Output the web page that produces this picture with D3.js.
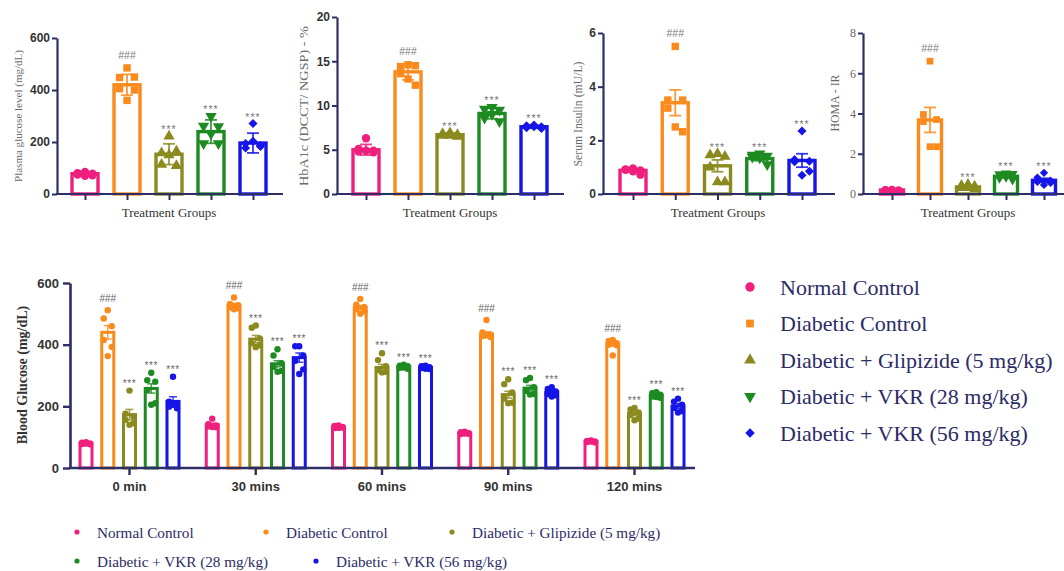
<!DOCTYPE html>
<html><head><meta charset="utf-8">
<script src="https://cdn.jsdelivr.net/npm/d3@7"></script>
<style>
body{margin:0;background:#fff} svg{display:block}
.serif{font-family:"Liberation Serif","Tinos","DejaVu Serif",serif}
.sans{font-family:"Liberation Sans","Arimo",Arial,sans-serif}
</style>
</head><body>
<svg id="c" width="1064" height="571"></svg>
<script>
// ---------- DATA ----------
const groups = ["Normal Control", "Diabetic Control", "Diabetic + Glipizide (5 mg/kg)", "Diabetic + VKR (28 mg/kg)", "Diabetic + VKR (56 mg/kg)"];
const groupColors = ["#ef1f7d", "#fb8a1c", "#8a8a1e", "#1e8a22", "#1515e8"];
const annotations = ["", "###", "***", "***", "***"];

const plasmaTicks = [0, 200, 400, 600];
const plasmaMean = [78, 420, 153, 240, 196];
const plasmaErr = [6, 40, 40, 45, 38];
const plasmaPoints = [
  [85, 80, 78, 75, 72, 70],
  [485, 448, 450, 405, 400, 360],
  [222, 158, 164, 113, 109, 150],
  [299, 262, 260, 194, 194, 232],
  [271, 194, 186, 177, 183, 203]
];

const hba1cTicks = [0, 5, 10, 15, 20];
const hba1cMean = [5.0, 13.8, 6.7, 9.1, 7.6];
const hba1cErr = [0.6, 0.9, 0.2, 0.6, 0.15];
const hba1cPoints = [
  [6.3, 5.1, 4.9, 4.8, 4.7, 4.9],
  [14.6, 14.4, 14.5, 13.6, 12.3, 13.0],
  [6.9, 6.8, 6.7, 6.6, 6.5, 6.6],
  [9.8, 9.6, 9.5, 8.6, 8.2, 9.0],
  [7.8, 7.7, 7.6, 7.5, 7.4, 7.6]
];

const insulinTicks = [0, 2, 4, 6];
const insulinMean = [0.88, 3.4, 1.05, 1.32, 1.25];
const insulinErr = [0.05, 0.48, 0.22, 0.08, 0.25];
const insulinPoints = [
  [0.95, 0.92, 0.88, 0.9, 0.72, 0.85],
  [5.5, 3.5, 3.5, 3.2, 2.32, 2.5],
  [1.5, 1.45, 1.4, 1.0, 0.45, 0.45],
  [1.5, 1.45, 1.42, 1.38, 1.1, 1.35],
  [2.35, 1.28, 1.22, 1.2, 0.85, 0.7]
];

const homaTicks = [0, 2, 4, 6, 8];
const homaMean = [0.2, 3.68, 0.35, 0.88, 0.68];
const homaErr = [0.02, 0.62, 0.06, 0.08, 0.1];
const homaPoints = [
  [0.22, 0.2, 0.18, 0.21, 0.19, 0.2],
  [6.6, 3.95, 3.7, 3.6, 2.35, 2.35],
  [0.5, 0.45, 0.42, 0.3, 0.25, 0.3],
  [1.02, 0.98, 1.0, 0.8, 0.72, 0.85],
  [1.05, 0.82, 0.66, 0.6, 0.55, 0.45]
];

const times = ["0 min", "30 mins", "60 mins", "90 mins", "120 mins"];
const bgTicks = [0, 200, 400, 600];
// rows: groups, columns: times
const bgMean = [
  [80, 140, 133, 113, 86],
  [440, 528, 520, 434, 403],
  [173, 418, 326, 238, 177],
  [258, 338, 328, 259, 236],
  [216, 358, 326, 246, 201]
];
const bgErr = [
  [3, 5, 3, 3, 2],
  [22, 6, 7, 8, 8],
  [17, 12, 10, 11, 7],
  [15, 10, 4, 9, 4],
  [15, 15, 3, 5, 8]
];
const bgPoints = [
  [[84, 82, 80, 78, 77, 79], [160, 142, 138, 135, 132, 133], [138, 136, 133, 130, 131, 130], [118, 116, 113, 110, 111, 112], [89, 88, 86, 84, 83, 86]],
  [[512, 485, 460, 415, 393, 363], [553, 532, 528, 522, 518, 515], [548, 530, 522, 515, 508, 500], [480, 440, 433, 428, 425, 430], [415, 412, 405, 400, 398, 365]],
  [[251, 176, 167, 156, 145, 140], [462, 455, 420, 405, 398, 392], [372, 350, 330, 318, 312, 310], [288, 272, 245, 225, 212, 210], [195, 190, 180, 172, 160, 155]],
  [[309, 285, 280, 253, 210, 205], [385, 365, 340, 328, 315, 312], [335, 332, 330, 325, 322, 326], [292, 285, 262, 250, 240, 238], [246, 243, 238, 232, 228, 230]],
  [[296, 215, 210, 199, 194, 205], [395, 395, 365, 348, 320, 305], [332, 330, 327, 324, 321, 322], [262, 256, 248, 240, 236, 232], [225, 215, 205, 195, 185, 180]]
];

// ---------- DRAWING ----------
const svg = d3.select("#c");
const AXIS = "#2e2e66";
const symTypes = [d3.symbolCircle, d3.symbolSquare, d3.symbolTriangle, d3.symbolTriangle, d3.symbolSquare];
const symRot = [0, 0, 0, 180, 45];
const jitter = [0, -8, 8, -8, 8, 0];
const fmt = d3.format("~g");

function topPanel(c) {
  const g = svg.append("g");
  const y = d3.scaleLinear().domain([0, c.ticks[c.ticks.length - 1]]).range([194, c.yTop]);
  const x = d3.scalePoint().domain(groups).range(c.centers);

  groups.forEach((grp, i) => {
    const col = groupColors[i];
    const cx = x(grp);
    g.append("rect").attr("x", cx - c.barW / 2).attr("width", c.barW)
      .attr("y", y(c.means[i])).attr("height", y(0) - y(c.means[i]))
      .attr("fill", "none").attr("stroke", col).attr("stroke-width", 3.4);
    const e1 = y(c.means[i] + c.errs[i]), e0 = y(c.means[i] - c.errs[i]);
    g.append("line").attr("x1", cx).attr("x2", cx).attr("y1", e1).attr("y2", e0)
      .attr("stroke", col).attr("stroke-width", 1.8).attr("opacity", 0.85);
    [e1, e0].forEach(v => g.append("line").attr("x1", cx - 6).attr("x2", cx + 6).attr("y1", v).attr("y2", v)
      .attr("stroke", col).attr("stroke-width", 1.8).attr("opacity", 0.85));
    c.points[i].forEach((v, k) => {
      g.append("path").attr("d", d3.symbol().type(symTypes[i]).size(i === 4 ? c.symSize * 0.75 : c.symSize)())
        .attr("transform", `translate(${cx + jitter[k] * c.barW / 28},${y(v)}) rotate(${symRot[i]})`)
        .attr("fill", col);
    });
    if (annotations[i]) {
      const top = Math.min(y(d3.max(c.points[i])), e1);
      g.append("text").attr("class", "sans").attr("x", cx).attr("y", top - (annotations[i] === "###" ? 9 : 3))
        .attr("text-anchor", "middle").attr("font-size", 10.5)
        .attr("letter-spacing", annotations[i] === "***" ? 1 : 0)
        .attr("fill", "#7a7a7a").text(annotations[i]);
    }
  });

  const ax = g.append("g").attr("transform", `translate(${c.axisX},0)`)
    .call(d3.axisLeft(y).tickValues(c.ticks).tickFormat(fmt).tickSize(5).tickSizeOuter(0).tickPadding(2));
  ax.attr("font-family", null);
  ax.select(".domain").attr("stroke", AXIS).attr("stroke-width", 2.2);
  ax.selectAll(".tick line").attr("stroke", AXIS).attr("stroke-width", 2);
  ax.selectAll(".tick text").attr("class", c.serifTicks ? "serif" : "sans")
    .attr("font-weight", c.serifTicks ? "normal" : "bold").attr("font-size", 12)
    .attr("fill", c.serifTicks ? "#666" : "#333");
  g.append("line").attr("x1", c.axisX - 1).attr("x2", c.xEnd).attr("y1", y(0)).attr("y2", y(0))
    .attr("stroke", AXIS).attr("stroke-width", 2.2);
  const xa = g.append("g").attr("transform", `translate(0,${y(0)})`)
    .call(d3.axisBottom(x).tickSize(6).tickFormat(""));
  xa.select(".domain").remove();
  xa.selectAll(".tick line").attr("stroke", AXIS).attr("stroke-width", 2);

  g.append("text").attr("class", "serif").attr("x", c.labelX).attr("y", 217).attr("text-anchor", "middle")
    .attr("font-size", 13).attr("fill", "#333").text("Treatment Groups");
  g.append("text").attr("class", "serif").attr("transform", `translate(${c.ylX},${c.ylY}) rotate(-90)`)
    .attr("text-anchor", "middle").attr("dominant-baseline", "central")
    .attr("font-size", c.ylSize).attr("fill", "#6a6a6a")
    .attr("textLength", c.ylLen).attr("lengthAdjust", "spacingAndGlyphs").text(c.ylabel);
}

topPanel({ axisX: 57, xEnd: 283, centers: [85, 253], barW: 26, yTop: 38, ticks: plasmaTicks,
  means: plasmaMean, errs: plasmaErr, points: plasmaPoints, symSize: 55,
  ylabel: "Plasma glucose level (mg/dL)", ylX: 18, ylY: 116, ylSize: 11, ylLen: 132, labelX: 169 });
topPanel({ axisX: 337, xEnd: 564, centers: [366, 534], barW: 26, yTop: 17, ticks: hba1cTicks,
  means: hba1cMean, errs: hba1cErr, points: hba1cPoints, symSize: 55,
  ylabel: "HbA1c (DCCT/ NGSP) - %", ylX: 304, ylY: 106, ylSize: 12, ylLen: 160, labelX: 450 });
topPanel({ axisX: 603, xEnd: 835, centers: [633, 802], barW: 26, yTop: 33, ticks: insulinTicks,
  means: insulinMean, errs: insulinErr, points: insulinPoints, symSize: 55,
  ylabel: "Serum Insulin (mU/L)", ylX: 578, ylY: 114, ylSize: 11.5, ylLen: 105, labelX: 718 });
topPanel({ axisX: 863, xEnd: 1064, centers: [892, 1044], barW: 23, yTop: 33, ticks: homaTicks,
  means: homaMean, errs: homaErr, points: homaPoints, symSize: 45, serifTicks: true,
  ylabel: "HOMA - IR", ylX: 835, ylY: 103, ylSize: 12, ylLen: 57, labelX: 968 });

// ---------- bottom panel ----------
(function () {
  const g = svg.append("g");
  const y = d3.scaleLinear().domain([0, 600]).range([468, 283]);
  const xt = d3.scalePoint().domain(times).range([129, 634]);
  const xg = d3.scalePoint().domain(groups).range([-43, 44]);
  const bw = 12;
  times.forEach((t, j) => {
    groups.forEach((grp, i) => {
      const col = groupColors[i];
      const cx = xt(t) + xg(grp);
      const m = bgMean[i][j];
      g.append("rect").attr("x", cx - bw / 2).attr("width", bw).attr("y", y(m)).attr("height", y(0) - y(m))
        .attr("fill", "none").attr("stroke", col).attr("stroke-width", 3);
      const e1 = y(m + bgErr[i][j]), e0 = y(m - bgErr[i][j]);
      g.append("line").attr("x1", cx).attr("x2", cx).attr("y1", e1).attr("y2", e0)
        .attr("stroke", col).attr("stroke-width", 1.5).attr("opacity", 0.8);
      [e1, e0].forEach(v => g.append("line").attr("x1", cx - 4).attr("x2", cx + 4).attr("y1", v).attr("y2", v)
        .attr("stroke", col).attr("stroke-width", 1.5).attr("opacity", 0.8));
      bgPoints[i][j].forEach((v, k) => {
        g.append("circle").attr("cx", cx + jitter[k] / 2).attr("cy", y(v)).attr("r", 3.2).attr("fill", col);
      });
      if (annotations[i]) {
        const top = Math.min(y(d3.max(bgPoints[i][j])), e1);
        g.append("text").attr("class", "sans").attr("x", cx).attr("y", top - (annotations[i] === "###" ? 8 : 4))
          .attr("text-anchor", "middle").attr("font-size", 10)
          .attr("letter-spacing", annotations[i] === "***" ? 0.6 : 0)
          .attr("fill", "#666").text(annotations[i]);
      }
    });
  });
  const ax = g.append("g").attr("transform", "translate(70,0)")
    .call(d3.axisLeft(y).tickValues(bgTicks).tickFormat(fmt).tickSize(7).tickSizeOuter(0).tickPadding(4));
  ax.attr("font-family", null);
  ax.select(".domain").attr("stroke", AXIS).attr("stroke-width", 2.6);
  ax.selectAll(".tick line").attr("stroke", AXIS).attr("stroke-width", 2.4);
  ax.selectAll(".tick text").attr("class", "sans").attr("font-weight", "bold").attr("font-size", 13).attr("fill", "#333");
  g.append("line").attr("x1", 69).attr("x2", 695).attr("y1", y(0)).attr("y2", y(0))
    .attr("stroke", AXIS).attr("stroke-width", 2.6);
  const xa = g.append("g").attr("transform", `translate(0,${y(0)})`)
    .call(d3.axisBottom(xt).tickSize(7).tickPadding(7));
  xa.attr("font-family", null);
  xa.select(".domain").remove();
  xa.selectAll(".tick line").attr("stroke", AXIS).attr("stroke-width", 2.4);
  xa.selectAll(".tick text").attr("class", "sans").attr("font-weight", "bold").attr("font-size", 13).attr("fill", "#333");
  g.append("text").attr("class", "serif").attr("transform", "translate(22,375) rotate(-90)")
    .attr("text-anchor", "middle").attr("dominant-baseline", "central")
    .attr("font-weight", "bold").attr("font-size", 14).attr("fill", "#333")
    .text("Blood Glucose (mg/dL)");
})();

// ---------- right legend ----------
(function () {
  const g = svg.append("g");
  const ly = d3.scalePoint().domain(groups).range([287, 433]);
  groups.forEach((grp, i) => {
    g.append("path").attr("d", d3.symbol().type(symTypes[i]).size(i === 0 ? 70 : (i === 4 ? 45 : 60))())
      .attr("transform", `translate(750,${ly(grp)}) rotate(${symRot[i]})`).attr("fill", groupColors[i]);
    g.append("text").attr("class", "serif").attr("x", 780).attr("y", ly(grp)).attr("dominant-baseline", "central")
      .attr("font-size", 22).attr("fill", "#2b2b66").text(grp);
  });
})();

// ---------- bottom legend ----------
(function () {
  const g = svg.append("g");
  const pos = [[77, 532], [266, 532], [452, 532], [77, 561], [316, 561]];
  groups.forEach((grp, i) => {
    g.append("circle").attr("cx", pos[i][0]).attr("cy", pos[i][1]).attr("r", 2.6).attr("fill", groupColors[i]);
    g.append("text").attr("class", "serif").attr("x", pos[i][0] + 20).attr("y", pos[i][1]).attr("dominant-baseline", "central")
      .attr("font-size", 15.2).attr("fill", "#2b2b66").text(grp);
  });
})();
</script>
</body></html>
